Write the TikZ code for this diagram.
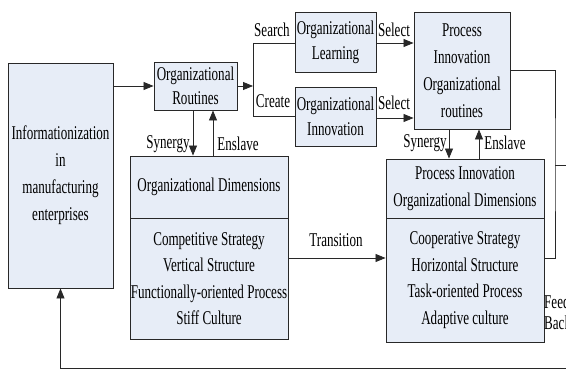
\documentclass[tikz,border=0pt]{standalone}
\usepackage{fontspec}
\setmainfont{Liberation Serif}[FakeStretch=0.67]
\usetikzlibrary{arrows.meta}
\definecolor{boxfill}{RGB}{231,237,247}
\definecolor{edge}{RGB}{40,40,40}
\begin{document}
\begin{tikzpicture}[x=1pt,y=-1pt,
  txt/.style={font=\fontsize{19.5}{26.5}\selectfont, text=black},
  box/.style={txt, draw=edge, line width=0.9pt, fill=boxfill, align=center, inner sep=0pt},
  conn/.style={draw=edge, line width=0.8pt},
  arr/.style={conn, -{Triangle[length=10pt,width=8pt]}},
  lbl/.style={txt, inner sep=0pt}]
\useasboundingbox (0,0) rectangle (566,369);
\clip (0,0) rectangle (566,369);

% boxes
\node[box, minimum width=105pt, minimum height=225pt, font=\fontsize{19.5}{27}\selectfont]
  (info) at (60.5,175.5) {Informationization\\in\\manufacturing\\enterprises};
\node[box, minimum width=83pt, minimum height=48pt, font=\fontsize{19.5}{24}\selectfont]
  (routines) at (195.5,86) {Organizational\\Routines};
\node[box, minimum width=81pt, minimum height=60pt, font=\fontsize{19.5}{25}\selectfont]
  (learning) at (335.5,42) {Organizational\\Learning};
\node[box, minimum width=81pt, minimum height=59pt, font=\fontsize{19.5}{25}\selectfont]
  (innovation) at (335.5,116.5) {Organizational\\Innovation};
\node[box, minimum width=96pt, minimum height=117pt, font=\fontsize{19.5}{27}\selectfont]
  (pir) at (462,70.5) {Process\\Innovation\\Organizational\\routines};

\node[box, minimum width=158pt, minimum height=62pt]
  (odA) at (209,187) {Organizational Dimensions};
\node[box, minimum width=158pt, minimum height=121pt]
  (odB) at (209,278.5) {Competitive Strategy\\Vertical Structure\\Functionally-oriented Process\\Stiff Culture};
\node[box, minimum width=158pt, minimum height=59pt]
  (pdA) at (465,188.5) {Process Innovation\\Organizational Dimensions};
\node[box, minimum width=158pt, minimum height=124pt]
  (pdB) at (465,280) {Cooperative Strategy\\Horizontal Structure\\Task-oriented Process\\Adaptive culture};

% routines -> search / create branch
\coordinate (split) at (253,86);
\coordinate (splitT) at (253,43);
\coordinate (splitB) at (253,116);
\draw[arr] (routines.east) -- (split);
\draw[conn] (splitT) -- (splitB);
\draw[conn] (splitT) -- (splitT -| learning.west);
\draw[conn] (splitB) -- (splitB -| innovation.west);
\node[lbl] (search) at (272,30) {Search};
\node[lbl] (create) at (273,101) {Create};

% selection into the new routines
\draw[arr] ([yshift=-1pt]learning.east) -- ([yshift=-1pt]learning.east -| pir.west);
\draw[arr] ([yshift=-1.5pt]innovation.east) -- ([yshift=-1.5pt]innovation.east -| pir.west);
\node[lbl] (sel1) at (394,30) {Select};
\node[lbl] (sel2) at (394,103) {Select};

% informationization -> routines
\draw[arr] (routines.west -| info.east) -- (routines.west);

% synergy / enslave, left
\draw[arr] ([xshift=-2.5pt]routines.south) -- ([xshift=-2.5pt]routines.south |- odA.north);
\draw[arr] ([xshift=17.5pt]routines.south |- odA.north) -- ([xshift=17.5pt]routines.south);
\node[lbl] (syn1) at (168,144) {Synergy};
\node[lbl] (ens1) at (238,144) {Enslave};

% synergy / enslave, right
\draw[arr] ([xshift=-13pt]pir.south) -- ([xshift=-13pt]pir.south |- pdA.north);
\draw[arr] ([xshift=17pt]pir.south |- pdA.north) -- ([xshift=17pt]pir.south);
\node[lbl] (syn2) at (425,143) {Synergy};
\node[lbl] (ens2) at (505,143) {Enslave};

% transition
\draw[arr] ([yshift=20.5pt]odB.east) -- ([yshift=20.5pt]odB.east -| pdB.west);
\node[lbl] (trans) at (336,240) {Transition};

% feedback loop, running out past the right edge
\coordinate (fbR) at (555,165);
\coordinate (fbOut) at (580,165);
\coordinate (fbB) at (580,368);
\draw[conn] (pir.east) -| (fbR) |- ([yshift=22pt]pdB.east);
\draw[conn] (fbR) -- (fbOut);
\draw[arr] (fbB) -| (info.south);
\node[lbl, anchor=west] (feed) at (544,302) {Feed};
\node[lbl, anchor=west] (back) at (544,323) {Back};
\end{tikzpicture}
\end{document}
